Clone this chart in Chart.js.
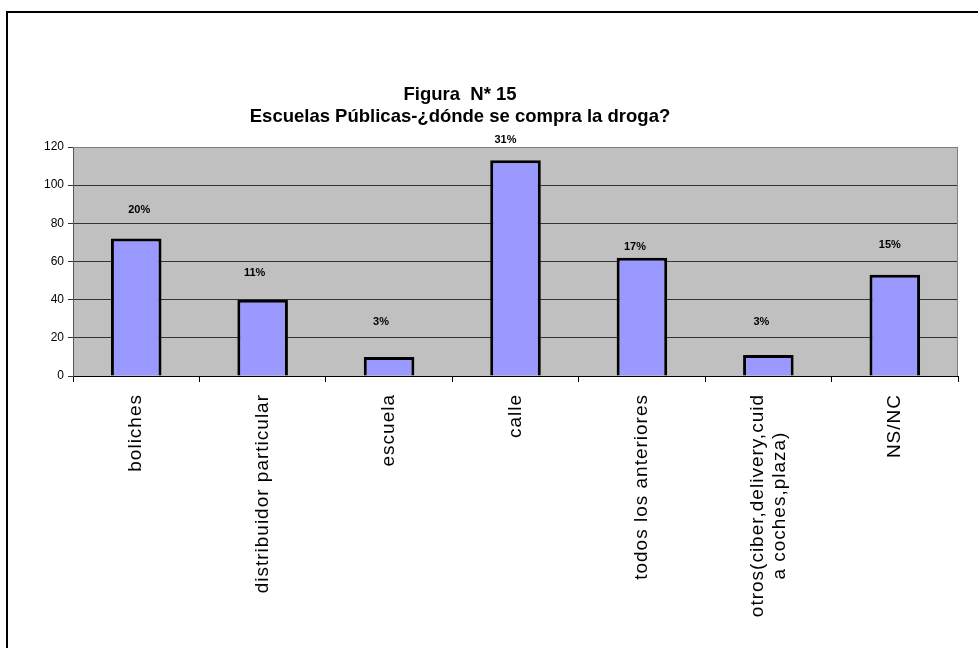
<!DOCTYPE html>
<html>
<head>
<meta charset="utf-8">
<script src="https://cdn.jsdelivr.net/npm/chart.js@4.4.0/dist/chart.umd.min.js"></script>
<style>
  html, body { margin: 0; padding: 0; background: #fff; overflow: hidden; }
  #frame { position: absolute; left: 6px; top: 11px; width: 1100px; height: 800px; border: 2px solid #000; }
  #wrap { position: absolute; left: 0; top: 0; width: 978px; height: 648px; }
</style>
</head>
<body>
<div id="frame"></div>
<div id="wrap"><canvas id="mycanvas" width="978" height="648"></canvas></div>
<script>
// data
var categories = ['boliches', 'distribuidor particular', 'escuela', 'calle', 'todos los anteriores', ['otros(ciber,delivery,cuid', 'a coches,plaza)'], 'NS/NC'];
var counts = [72, 40, 10, 113, 62, 11, 53];
var percents = ['20%', '11%', '3%', '31%', '17%', '3%', '15%'];
var titleLines = ['Figura  N* 15', 'Escuelas Públicas-¿dónde se compra la droga?'];
var yMin = 0, yMax = 120, yStep = 20;

// where excel left the percent labels, relative to the bar top
var labelDx = [3, -8, -8, -10, -7, -7, -5];
var labelDy = [29, 27, 35, 20, 11, 33, 30];

var fontFam = '"Liberation Sans", Arial, sans-serif';

var plotBg = {
    id: 'plotBg',
    beforeDraw: function(chart) {
        var a = chart.chartArea, ctx = chart.ctx;
        ctx.save();
        ctx.fillStyle = '#c0c0c0';
        ctx.fillRect(a.left, a.top, a.right - a.left, a.bottom - a.top);
        ctx.restore();
    },
    beforeDatasetsDraw: function(chart) {
        var a = chart.chartArea, ctx = chart.ctx;
        ctx.save();
        ctx.strokeStyle = '#808080';
        ctx.lineWidth = 1;
        ctx.beginPath();
        ctx.moveTo(a.left, a.top + 0.5);
        ctx.lineTo(a.right - 0.5, a.top + 0.5);
        ctx.lineTo(a.right - 0.5, a.bottom);
        ctx.stroke();
        ctx.restore();
    }
};

var extras = {
    id: 'extras',
    afterDraw: function(chart) {
        var ctx = chart.ctx;
        var xs = chart.scales.x;
        var meta = chart.getDatasetMeta(0);
        ctx.save();
        ctx.fillStyle = '#000';

        // title
        ctx.font = 'bold 18.5px ' + fontFam;
        ctx.textAlign = 'center';
        ctx.textBaseline = 'middle';
        ctx.fillText(titleLines[0], 460, 95);
        ctx.fillText(titleLines[1], 460, 117);

        // percent labels
        ctx.font = 'bold 11px ' + fontFam;
        meta.data.forEach(function(bar, i) {
            ctx.fillText(percents[i], bar.x + labelDx[i], bar.y - labelDy[i]);
        });

        // rotated category labels
        ctx.font = '19px ' + fontFam;
        if ('letterSpacing' in ctx) ctx.letterSpacing = '1px';
        var lh = 22;
        categories.forEach(function(cat, i) {
            var lines = Array.isArray(cat) ? cat : [cat];
            var w = 0;
            lines.forEach(function(l) { w = Math.max(w, ctx.measureText(l).width); });
            var x = xs.getPixelForValue(i);
            ctx.save();
            ctx.translate(x, xs.top + 18);
            ctx.rotate(-Math.PI / 2);
            ctx.textAlign = 'center';
            ctx.textBaseline = 'middle';
            lines.forEach(function(l, k) {
                ctx.fillText(l, -w / 2, (k - (lines.length - 1) / 2) * lh);
            });
            ctx.restore();
        });
        ctx.restore();
    }
};

var chartdata = {
    labels: categories,
    datasets: [{
        label: 'Escuelas Públicas',
        data: counts,
        backgroundColor: '#9999ff',
        borderColor: '#000000',
        borderWidth: 3,
        barPercentage: 0.4,
        categoryPercentage: 1.0
    }]
};

var ctx = document.getElementById('mycanvas');
var barGraph = new Chart(ctx, {
    type: 'bar',
    data: chartdata,
    plugins: [plotBg, extras],
    options: {
        responsive: false,
        animation: false,
        layout: { padding: { top: 147, right: 20, bottom: 0, left: 0 } },
        plugins: {
            legend: { display: false },
            title: { display: false },
            tooltip: { enabled: false }
        },
        scales: {
            x: {
                offset: true,
                grid: { display: true, drawOnChartArea: false, drawTicks: true, tickLength: 6, color: '#000', offset: true },
                border: { color: '#000', width: 1 },
                ticks: { display: false },
                afterFit: function(scale) { scale.height = 272; }
            },
            y: {
                min: yMin,
                max: yMax,
                grid: { color: '#333333', lineWidth: 1, tickLength: 5 },
                border: { color: '#555555', width: 1 },
                ticks: {
                    stepSize: yStep,
                    color: '#000',
                    padding: 4,
                    font: { family: fontFam, size: 12 }
                },
                afterFit: function(scale) { scale.width = 73; }
            }
        }
    }
});
</script>
</body>
</html>
